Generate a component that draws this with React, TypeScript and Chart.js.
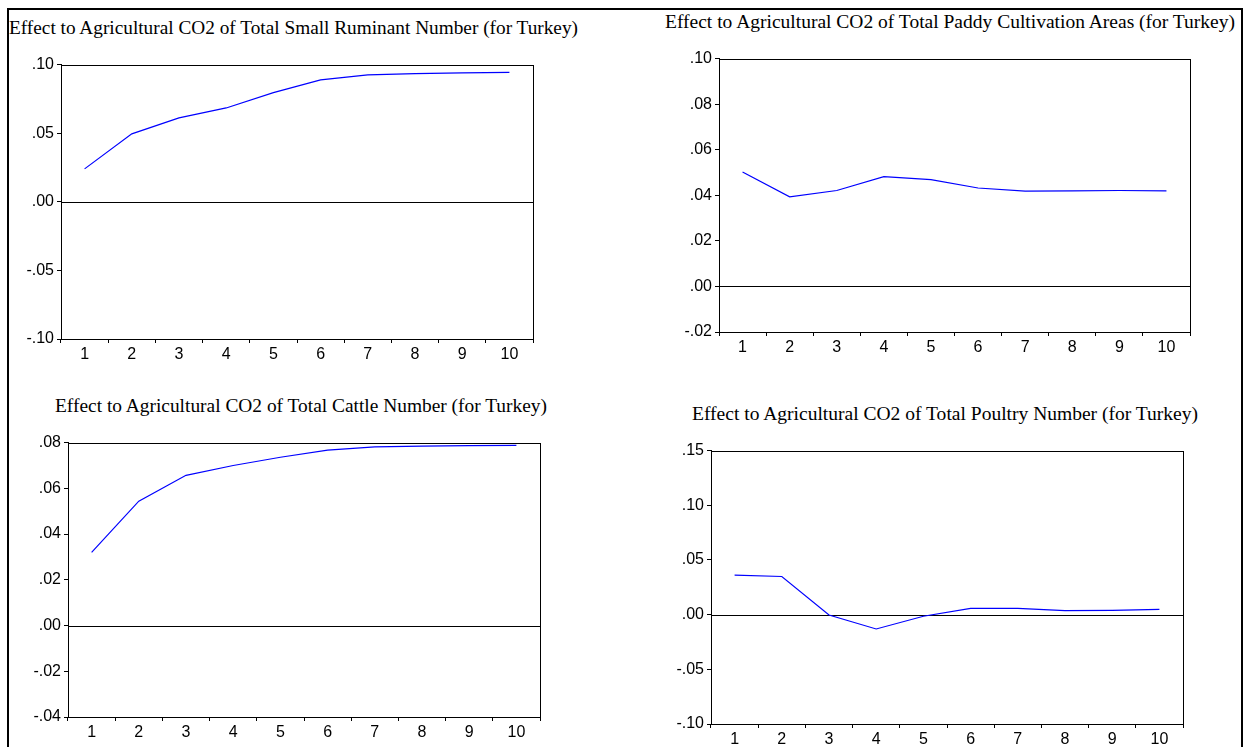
import React, { useEffect, useLayoutEffect, useRef } from "react";
import { Chart, registerables } from "chart.js";

Chart.register(...registerables);

// ---------- data ----------
const periods = ["1", "2", "3", "4", "5", "6", "7", "8", "9", "10"];

const smallRuminant = [0.024, 0.0495, 0.0612, 0.0684, 0.0796, 0.0888, 0.0925, 0.0934, 0.0939, 0.0944];
const paddyAreas = [0.0502, 0.0393, 0.0421, 0.0482, 0.0469, 0.0432, 0.0418, 0.0419, 0.0421, 0.0419];
const cattleNumber = [0.032, 0.0544, 0.0657, 0.07, 0.0736, 0.0767, 0.0781, 0.0785, 0.0787, 0.0788];
const poultryNumber = [0.0361, 0.0349, -0.0003, -0.0131, -0.0015, 0.0058, 0.0058, 0.0036, 0.0039, 0.0049];

const titleSmall = "Effect to Agricultural CO2 of Total Small Ruminant Number (for Turkey)";
const titlePaddy = "Effect to Agricultural CO2 of Total Paddy Cultivation Areas (for Turkey)";
const titleCattle = "Effect to Agricultural CO2 of Total Cattle Number (for Turkey)";
const titlePoultry = "Effect to Agricultural CO2 of Total Poultry Number (for Turkey)";

// ---------- layout ----------
const panels = [
  { title: titleSmall, data: smallRuminant, yMin: -0.1, yMax: 0.1, yStep: 0.05,
    box: { l: 61, r: 533, t: 64, b: 339 }, tb: { x: 9, cy: 28, w: 569 } },
  { title: titlePaddy, data: paddyAreas, yMin: -0.02, yMax: 0.1, yStep: 0.02,
    box: { l: 719, r: 1190, t: 58, b: 332 }, tb: { x: 665, cy: 22, w: 570 } },
  { title: titleCattle, data: cattleNumber, yMin: -0.04, yMax: 0.08, yStep: 0.02,
    box: { l: 68, r: 540, t: 442, b: 717 }, tb: { x: 55, cy: 406, w: 492 } },
  { title: titlePoultry, data: poultryNumber, yMin: -0.1, yMax: 0.15, yStep: 0.05,
    box: { l: 711, r: 1183, t: 450, b: 724 }, tb: { x: 692, cy: 414, w: 506 } },
];

const SANS = '"Liberation Sans", Arial, sans-serif';
const SERIF = '"Liberation Serif", "Times New Roman", serif';

const fmt = (v: number) => {
  const s = Number(v).toFixed(2);
  if (s === "-0.00") return ".00";
  return s.replace("0.", ".");
};

const framePlugin = {
  id: "frameAndZero",
  beforeDatasetsDraw(chart: any) {
    const { ctx, chartArea, scales } = chart;
    const y0 = Math.round(scales.y.getPixelForValue(0)) + 0.5;
    ctx.save();
    ctx.strokeStyle = "#000";
    ctx.lineWidth = 1;
    ctx.beginPath();
    ctx.moveTo(chartArea.left, y0);
    ctx.lineTo(chartArea.right + 1, y0);
    ctx.stroke();
    ctx.restore();
  },
  afterDraw(chart: any) {
    const { ctx, chartArea } = chart;
    ctx.save();
    ctx.strokeStyle = "#000";
    ctx.lineWidth = 1;
    const l = Math.round(chartArea.left) + 0.5;
    const t = Math.round(chartArea.top) + 0.5;
    const r = Math.round(chartArea.right) + 0.5;
    const b = Math.round(chartArea.bottom) + 0.5;
    ctx.strokeRect(l, t, r - l, b - t);
    ctx.restore();
  },
};

const PAD_L = 60;
const PAD_T = 12;
const PAD_R = 12;
const PAD_B = 32;

function Panel({ cfg }: { cfg: any }) {
  const ref = useRef<HTMLCanvasElement>(null);
  const w = cfg.box.r - cfg.box.l + PAD_L + PAD_R;
  const h = cfg.box.b - cfg.box.t + PAD_T + PAD_B;
  useEffect(() => {
    if (!ref.current) return;
    const gridOpts = {
      drawOnChartArea: false,
      drawTicks: true,
      tickLength: 4,
      color: "#000",
      tickColor: "#000",
      lineWidth: 1,
    };
    const chart = new Chart(ref.current, {
      type: "line",
      data: {
        labels: periods,
        datasets: [
          {
            data: cfg.data,
            borderColor: "#0000ff",
            borderWidth: 1.2,
            pointRadius: 0,
            tension: 0,
            fill: false,
          },
        ],
      },
      options: {
        animation: false,
        responsive: false,
        devicePixelRatio: 1,
        events: [],
        layout: { padding: { left: 0, top: PAD_T, right: PAD_R, bottom: 0 } },
        plugins: { legend: { display: false }, tooltip: { enabled: false }, title: { display: false } },
        scales: {
          x: {
            type: "category",
            offset: true,
            grid: { ...gridOpts, offset: true },
            border: { display: true, color: "#000", width: 1 },
            ticks: {
              color: "#000",
              font: { family: SANS, size: 16 },
              padding: 2,
              maxRotation: 0,
              autoSkip: false,
            },
            afterFit: (s: any) => {
              s.height = PAD_B;
            },
          },
          y: {
            type: "linear",
            min: cfg.yMin,
            max: cfg.yMax,
            grid: gridOpts,
            border: { display: true, color: "#000", width: 1 },
            ticks: {
              stepSize: cfg.yStep,
              color: "#000",
              font: { family: SANS, size: 16 },
              padding: 3,
              callback: (v: any) => fmt(v),
            },
            afterFit: (s: any) => {
              s.width = PAD_L;
            },
          },
        },
      } as any,
      plugins: [framePlugin],
    });
    return () => chart.destroy();
  }, [cfg]);
  return (
    <canvas
      ref={ref}
      width={w}
      height={h}
      style={{
        position: "absolute",
        left: cfg.box.l - PAD_L,
        top: cfg.box.t - PAD_T,
        width: w,
        height: h,
      }}
    />
  );
}

function Title({ text, x, cy, w }: { text: string; x: number; cy: number; w: number }) {
  const ref = useRef<HTMLSpanElement>(null);
  useLayoutEffect(() => {
    const fit = () => {
      const el = ref.current;
      if (!el) return;
      el.style.transform = "none";
      const actual = el.getBoundingClientRect().width;
      if (actual > 0) el.style.transform = `scaleX(${w / actual})`;
    };
    fit();
    if ((document as any).fonts && (document as any).fonts.ready) {
      (document as any).fonts.ready.then(fit);
    }
  }, [text, w]);
  return (
    <span
      ref={ref}
      style={{
        position: "absolute",
        left: x,
        top: cy - 11,
        lineHeight: "22px",
        fontSize: 18,
        fontFamily: SERIF,
        whiteSpace: "nowrap",
        transformOrigin: "left center",
        color: "#000",
      }}
    >
      {text}
    </span>
  );
}

export default function App() {
  return (
    <div
      style={{
        position: "absolute",
        left: 0,
        top: 0,
        width: 1249,
        height: 747,
        overflow: "hidden",
        background: "#fff",
      }}
    >
      <div
        style={{
          position: "absolute",
          left: 7,
          top: 8,
          width: 1236,
          height: 800,
          boxSizing: "border-box",
          borderTop: "2px solid #000",
          borderLeft: "2px solid #000",
          borderRight: "2px solid #000",
        }}
      />
      {panels.map((p, i) => (
        <Title key={"t" + i} text={p.title} x={p.tb.x} cy={p.tb.cy} w={p.tb.w} />
      ))}
      {panels.map((p, i) => (
        <Panel key={"p" + i} cfg={p} />
      ))}
    </div>
  );
}
